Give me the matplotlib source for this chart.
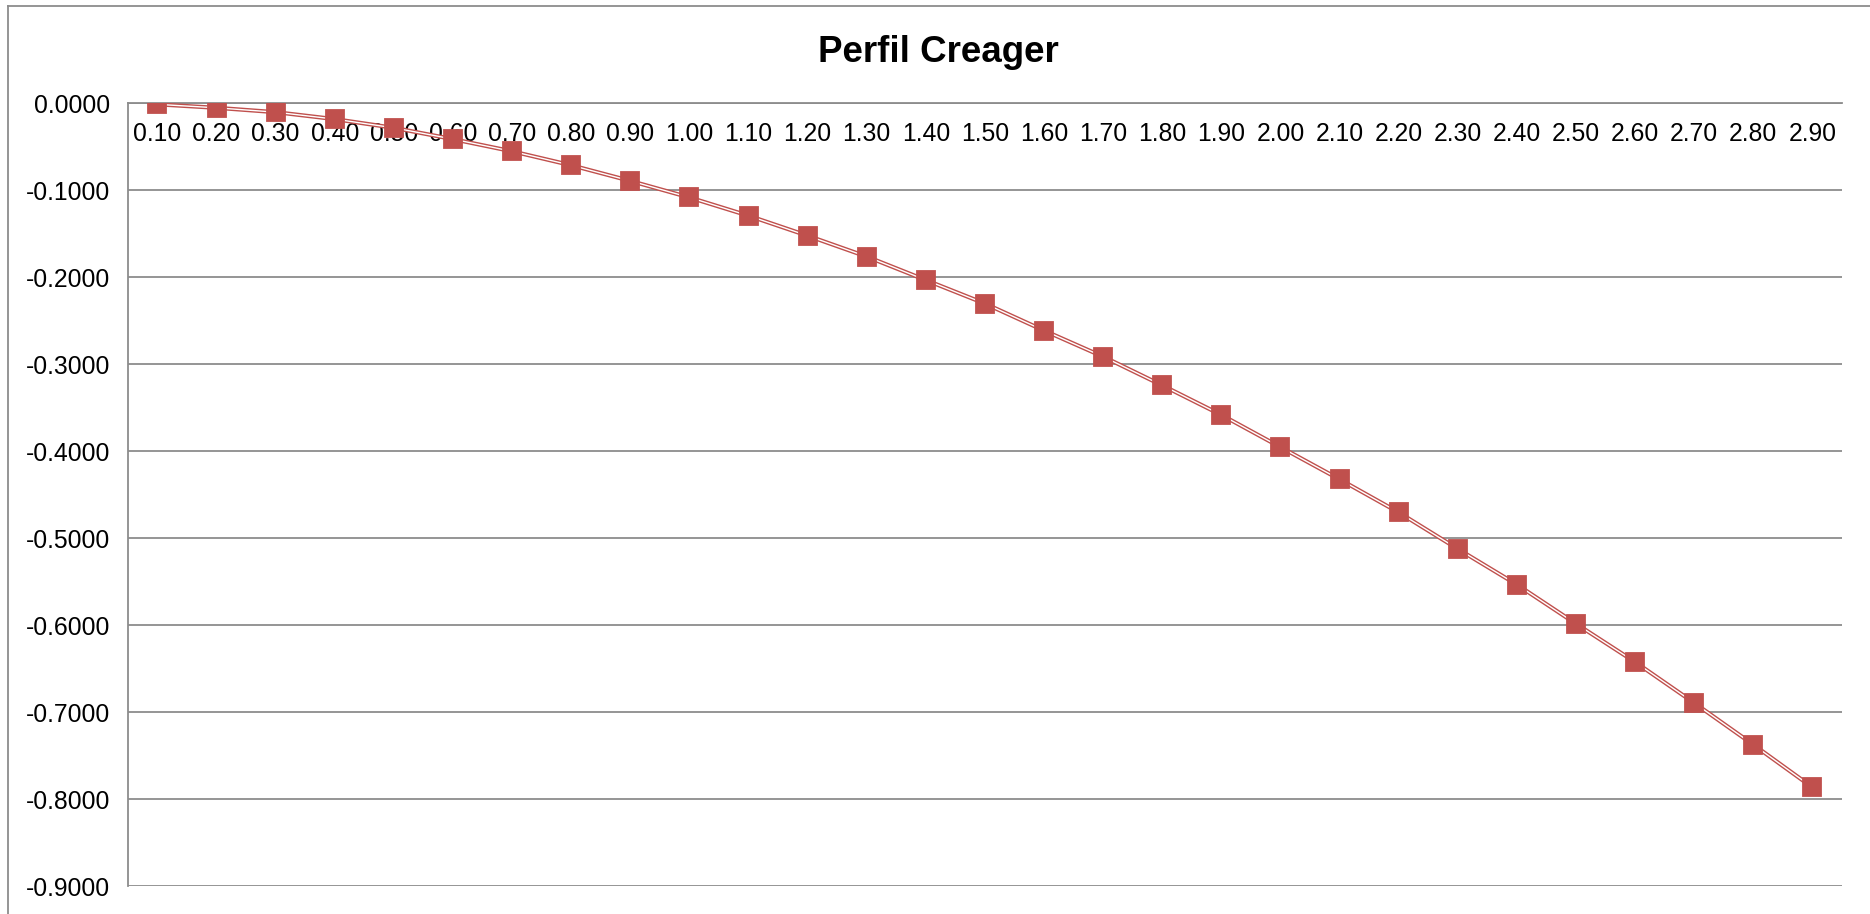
import matplotlib.pyplot as plt
from matplotlib.lines import Line2D

# Creager spillway profile: horizontal distance (category labels) and depth
X_LABELS = ['0.10', '0.20', '0.30', '0.40', '0.50', '0.60', '0.70', '0.80',
            '0.90', '1.00', '1.10', '1.20', '1.30', '1.40', '1.50', '1.60',
            '1.70', '1.80', '1.90', '2.00', '2.10', '2.20', '2.30', '2.40',
            '2.50', '2.60', '2.70', '2.80', '2.90']
Y_VALUES = [-0.001, -0.005, -0.010, -0.018, -0.028, -0.041, -0.055, -0.071,
            -0.089, -0.108, -0.129, -0.152, -0.176, -0.203, -0.230, -0.261,
            -0.291, -0.324, -0.358, -0.395, -0.432, -0.470, -0.512, -0.553,
            -0.598, -0.642, -0.689, -0.737, -0.786]
Y_TICKS = [0.0, -0.1, -0.2, -0.3, -0.4, -0.5, -0.6, -0.7, -0.8, -0.9]

RED = '#C0504D'
GRID = '#8C8C8C'

plt.rcParams['font.family'] = ['Liberation Sans', 'DejaVu Sans']

fig = plt.figure(figsize=(18.7, 9.14), dpi=100)
ax = fig.add_axes([0.0684, 0.0301, 0.9166, 0.8567])

pos = [i + 0.5 for i in range(len(X_LABELS))]

# double line: thick red stroke with a thin white core, markers on top
ax.plot(pos, Y_VALUES, color=RED, lw=3.0, solid_capstyle='butt', zorder=3)
ax.plot(pos, Y_VALUES, color='white', lw=1.0, solid_capstyle='butt', zorder=4)
ax.plot(pos, Y_VALUES, ls='none', marker='s', ms=13.5, color=RED,
        mec=RED, mew=1.3, zorder=5)

ax.set_xlim(0, len(X_LABELS))
ax.set_ylim(-0.9, 0.0)
ax.set_yticks(Y_TICKS)
ax.set_yticklabels(['%.4f' % v for v in Y_TICKS])
ax.yaxis.grid(True, color=GRID, lw=1.3)
ax.set_axisbelow(True)

ax.xaxis.tick_top()
ax.set_xticks(pos)
ax.set_xticklabels(X_LABELS)
ax.tick_params(axis='x', length=0, pad=-13, labelsize=17.8,
               labeltop=True, labelbottom=False, direction='in')
for lbl in ax.get_xticklabels():
    lbl.set_verticalalignment('top')
ax.tick_params(axis='y', length=0, pad=13, labelsize=17.8)

for side in ['right', 'bottom']:
    ax.spines[side].set_visible(False)
ax.spines['top'].set_color(GRID)
ax.spines['top'].set_linewidth(1.3)
ax.spines['left'].set_color(GRID)
ax.spines['left'].set_linewidth(1.3)

fig.text(0.502, 0.943, 'Perfil Creager', ha='center', va='center',
         fontsize=26.5, fontweight='bold')

# chart area frame on the top and left edges
fig.add_artist(Line2D([8 / 1870, 1.0], [1 - 6 / 914, 1 - 6 / 914],
                      color=GRID, lw=1.3, transform=fig.transFigure))
fig.add_artist(Line2D([8 / 1870, 8 / 1870], [0.0, 1 - 6 / 914],
                      color=GRID, lw=1.3, transform=fig.transFigure))

fig.savefig('out.png', dpi=100)
